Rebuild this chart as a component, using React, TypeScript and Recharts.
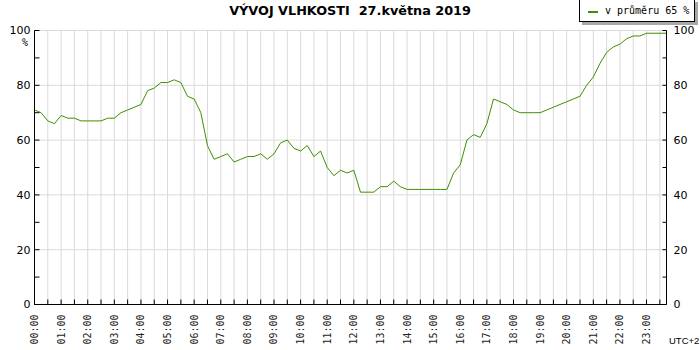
import { LineChart, Line, XAxis, YAxis, CartesianGrid } from 'recharts';

// relative humidity (%), one reading every 15 minutes, 00:00 .. 23:45
const HUMIDITY = [
  71, 70, 67, 66, 69, 68, 68, 67, 67, 67,
  67, 68, 68, 70, 71, 72, 73, 78, 79, 81,
  81, 82, 81, 76, 75, 70, 58, 53, 54, 55,
  52, 53, 54, 54, 55, 53, 55, 59, 60, 57,
  56, 58, 54, 56, 50, 47, 49, 48, 49, 41,
  41, 41, 43, 43, 45, 43, 42, 42, 42, 42,
  42, 42, 42, 48, 51, 60, 62, 61, 66, 75,
  74, 73, 71, 70, 70, 70, 70, 71, 72, 73,
  74, 75, 76, 80, 83, 88, 92, 94, 95, 97,
  98, 98, 99, 99, 99, 99,
];

const HOURS = [
  '00:00', '01:00', '02:00', '03:00', '04:00', '05:00', '06:00', '07:00',
  '08:00', '09:00', '10:00', '11:00', '12:00', '13:00', '14:00', '15:00',
  '16:00', '17:00', '18:00', '19:00', '20:00', '21:00', '22:00', '23:00',
];

const Y_TICKS = [0, 10, 20, 30, 40, 50, 60, 70, 80, 90, 100];
const GRID_TICKS = [0, 20, 40, 60, 80, 100];

const TITLE = 'VÝVOJ VLHKOSTI  27.května 2019';
const LEGEND = 'v průměru 65 %';
const LINE_COLOR = '#3f8f00';
const GRID_COLOR = '#dadada';

const data = HUMIDITY.map((v, i) => ({ i, v }));
// a tick every half hour (2 readings), label every full hour
const X_TICKS = HUMIDITY.map((_, i) => i).filter(i => i % 2 === 0);

const BottomTick = ({ x, y, payload }: any) => {
  const label = payload.value % 4 === 0 ? HOURS[payload.value / 4] : null;
  return (
    <g>
      <line x1={x} x2={x} y1={y} y2={y - 5} stroke="#000" />
      {label && (
        <text
          transform={`translate(${x},${y + 10}) rotate(-90)`}
          textAnchor="end"
          dy="0.35em"
          fontFamily="DejaVu Sans Mono"
          fontSize={10}
          fill="#222"
        >
          {label}
        </text>
      )}
    </g>
  );
};

const LeftTick = ({ x, y, payload }: any) => (
  <g>
    <line x1={x} x2={x + 5} y1={y} y2={y} stroke="#000" />
    {payload.value % 20 === 0 && (
      <text x={x - 4} y={y} dy="0.35em" textAnchor="end" fontFamily="DejaVu Sans" fontSize={11} fill="#000">
        {payload.value}
      </text>
    )}
  </g>
);

const RightTick = ({ x, y, payload }: any) => (
  <g>
    <line x1={x} x2={x - 4} y1={y} y2={y} stroke="#000" />
    {payload.value % 20 === 0 && (
      <text x={x + 7} y={y} dy="0.35em" textAnchor="start" fontFamily="DejaVu Sans" fontSize={11} fill="#000">
        {payload.value}
      </text>
    )}
  </g>
);

export default function App() {
  return (
    <div style={{ position: 'absolute', left: 0, top: 0, width: 700, height: 350, background: '#fff' }}>
      <LineChart width={700} height={350} data={data} margin={{ top: 30.5, right: 0, bottom: 0, left: 0 }}>
        <CartesianGrid yAxisId="left" stroke={GRID_COLOR} horizontalValues={GRID_TICKS} />
        <XAxis
          dataKey="i"
          type="number"
          domain={[0, HUMIDITY.length - 1]}
          ticks={X_TICKS}
          interval={0}
          height={45.5}
          tickSize={0}
          tickMargin={0}
          tickLine={false}
          axisLine={{ stroke: '#000' }}
          tick={<BottomTick />}
        />
        <YAxis
          yAxisId="left"
          domain={[0, 100]}
          ticks={Y_TICKS}
          interval={0}
          width={34.5}
          tickSize={0}
          tickMargin={0}
          tickLine={false}
          axisLine={{ stroke: '#000' }}
          tick={<LeftTick />}
        />
        <YAxis
          yAxisId="right"
          orientation="right"
          domain={[0, 100]}
          ticks={Y_TICKS}
          interval={0}
          width={33.5}
          tickSize={0}
          tickMargin={0}
          tickLine={false}
          axisLine={{ stroke: '#000' }}
          tick={<RightTick />}
        />
        {/* same series bound to the right scale so that axis is drawn too */}
        <Line
          yAxisId="right"
          type="linear"
          dataKey="v"
          stroke="none"
          dot={false}
          activeDot={false}
          legendType="none"
          isAnimationActive={false}
        />
        <Line
          yAxisId="left"
          type="linear"
          dataKey="v"
          stroke={LINE_COLOR}
          strokeWidth={1}
          dot={false}
          activeDot={false}
          isAnimationActive={false}
        />
      </LineChart>

      <div
        style={{
          position: 'absolute', left: 0, top: 3, width: 700, textAlign: 'center',
          fontFamily: 'DejaVu Sans', fontWeight: 'bold', fontSize: 12.8, whiteSpace: 'pre', color: '#000',
        }}
      >
        {TITLE}
      </div>

      <div
        style={{
          position: 'absolute', left: 579, top: -1, width: 116, height: 23, boxSizing: 'border-box',
          border: '1px solid #000', background: '#fff', boxShadow: '3px 3px 0 #a8a8a8',
          fontFamily: 'DejaVu Sans Mono', fontSize: 10, color: '#000',
        }}
      >
        <span style={{ position: 'absolute', left: 8, top: 11, width: 10, height: 2, background: LINE_COLOR }} />
        <span style={{ position: 'absolute', left: 25, top: 5 }}>{LEGEND}</span>
      </div>

      <div style={{ position: 'absolute', left: 22, top: 37, fontFamily: 'DejaVu Sans Mono', fontSize: 10 }}>%</div>
      <div style={{ position: 'absolute', left: 669, top: 335, fontFamily: 'Liberation Sans', fontSize: 9.5 }}>UTC+2</div>
    </div>
  );
}
